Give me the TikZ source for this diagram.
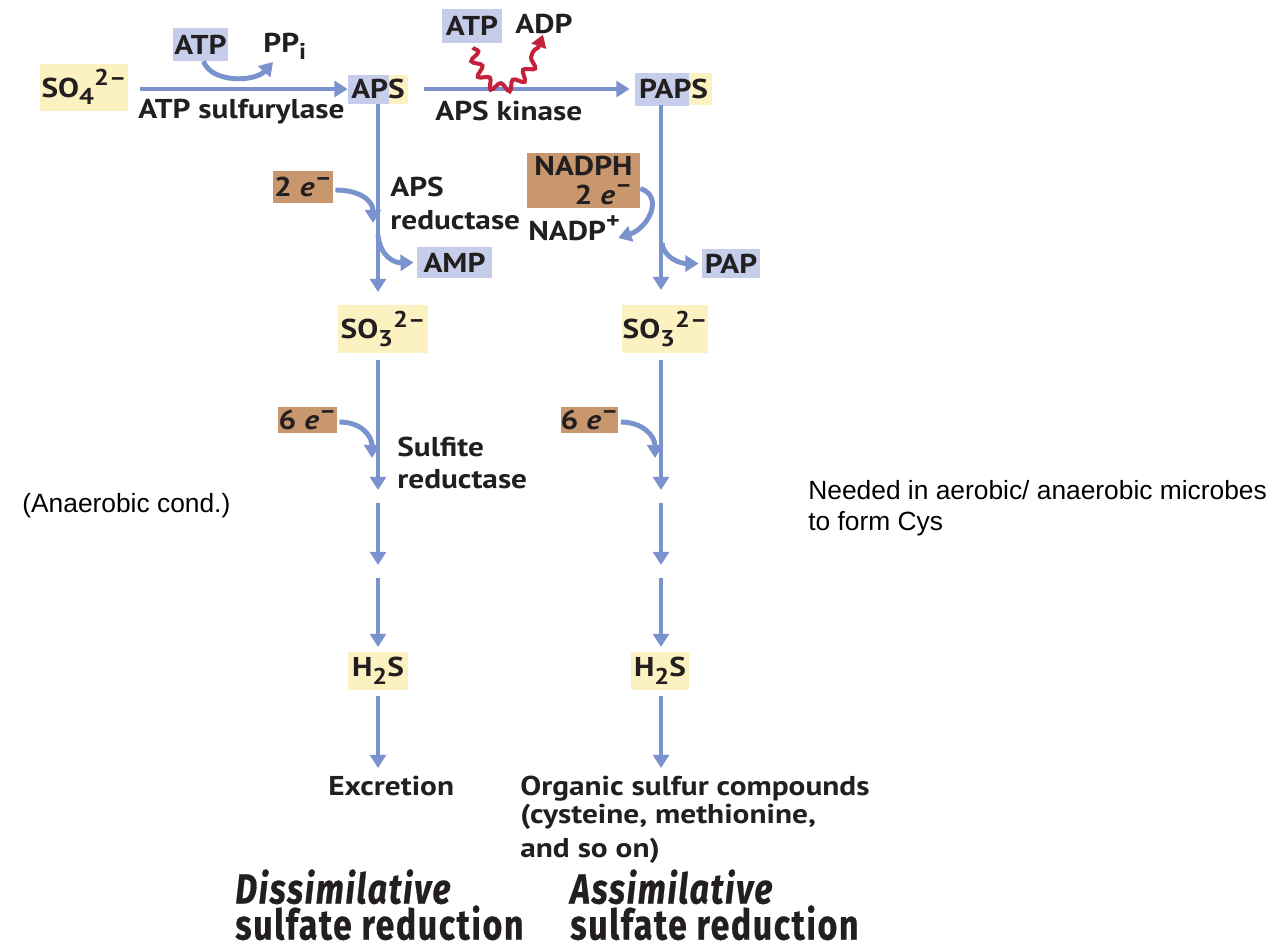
\documentclass[tikz,border=0pt]{standalone}
\usepackage{fontspec}
\setmainfont[FakeStretch=1.15]{PT Sans}
\newfontfamily\helv{Liberation Sans}
\newfontfamily\ttlfont[FakeStretch=0.8,LetterSpace=4,FakeBold=0.6]{Fira Sans}
\usetikzlibrary{arrows.meta,decorations.pathmorphing,calc}
\definecolor{arrc}{RGB}{122,146,206}
\definecolor{bbg}{RGB}{197,205,234}
\definecolor{ybg}{RGB}{251,241,193}
\definecolor{nbg}{RGB}{200,151,110}
\definecolor{wred}{RGB}{196,33,59}
\definecolor{txt}{RGB}{35,31,32}
\newcommand\lblf{\fontsize{15.5pt}{18pt}\selectfont\bfseries}
\newcommand\lo[1]{\raisebox{-0.28em}{\fontsize{13pt}{13pt}\selectfont #1}}
\newcommand\hi[1]{\raisebox{0.42em}{\fontsize{13pt}{13pt}\selectfont #1}}
\def\px{0.02cm}
\tikzset{
  lbl/.style={font=\lblf, text=txt, inner sep=0pt},
  box/.style={font=\lblf, text=txt, inner sep=0pt},
  ybox/.style={box, fill=ybg},
  bbox/.style={box, fill=bbg},
  nbox/.style={box, fill=nbg},
  arr/.style={draw=arrc, line width=2.8pt, -{Triangle[length=7.5pt,width=9pt]}},
  wave/.style={draw=wred, line width=2.3pt, -{Triangle[length=7pt,width=8.5pt]},
    decorate, decoration={snake, amplitude=2.6pt, segment length=9pt, post length=6pt}},
  helvtext/.style={font=\helv\fontsize{15pt}{17.6pt}\selectfont, text=black, inner sep=0pt, align=left},
  title/.style={font=\ttlfont\bfseries\fontsize{24pt}{20.5pt}\selectfont, text=txt, inner sep=0pt, align=left}
}
\begin{document}
\begin{tikzpicture}[x=0.02cm,y=-0.02cm]
\useasboundingbox[fill=white] (0,0) rectangle (1280,948);

% ---------- top row ----------
\node[ybox, minimum width=88*\px, minimum height=47*\px] (so4) at (84,87) {SO\lo{4}\hi{2--}};
\node[bbox, minimum width=55*\px, minimum height=33*\px] (atp1) at (200.5,44.5) {ATP};
\node[lbl, anchor=base west] (ppi) at (263,52) {PP\lo{i}};
\node[ybox, minimum width=60*\px, minimum height=29*\px,
      path picture={\fill[bbg] (path picture bounding box.north west) rectangle ++(41,40);}]
      (aps) at (378,89) {APS};
\node[lbl, anchor=base west] (sulf) at (138,118) {ATP sulfurylase};

\node[bbox, minimum width=60*\px, minimum height=34*\px] (atp2) at (472,26) {ATP};
\node[lbl, anchor=base west] (adp) at (515,33) {ADP};
\node[ybox, minimum width=77*\px, minimum height=32*\px,
      path picture={\fill[bbg] (path picture bounding box.north west) rectangle ++(54,40);}]
      (paps) at (673.5,89) {PAPS};
\node[lbl, anchor=base west] (kin) at (435,120) {APS kinase};

\draw[arr, shorten <=12*\px] (so4.east |- aps.west) -- (aps.west);
\draw[arr] ([xshift=3*\px]atp1.south) .. controls +(8,22) and +(-18,20) .. ([xshift=10*\px,yshift=-2*\px]ppi.south west);
\draw[arr, shorten <=16*\px, shorten >=5*\px] (aps.east) -- (paps.west);
\draw[wave] ([xshift=1*\px,yshift=-4*\px]atp2.south) .. controls (482,98) and (522,98) .. ([xshift=28*\px,yshift=-1*\px]adp.south west);

% ---------- left column, upper ----------
\coordinate (l1) at (378,292);
\draw[arr] (aps.south) -- (l1);
\node[nbox, minimum width=60*\px, minimum height=32*\px] (e2) at (303,187) {2 \textit{e}\hi{--}};
\node[lbl, anchor=north west, align=left, font=\fontsize{15.5pt}{18.8pt}\selectfont\bfseries] (apsred) at (390,177) {APS\\reductase};
\node[bbox, minimum width=75*\px, minimum height=31*\px] (amp) at (454.5,262.5) {AMP};
\draw[arr] ([xshift=2*\px,yshift=-3*\px]e2.east) .. controls +(25,0) and +(0,-22) .. (373,223);
\draw[arr] (378,235) .. controls (380,256) and (394,263) .. ([xshift=-3*\px]amp.west);

% ---------- right column, upper ----------
\coordinate (r0) at (661,105);
\coordinate (r1) at (661,290);
\draw[arr] (r0) -- (r1);
\node[nbox, minimum width=113*\px, minimum height=55*\px, align=right,
      font=\fontsize{15.5pt}{16pt}\selectfont\bfseries] (nadph) at (583.5,180.5) {NADPH\\2 \textit{e}\hi{--}};
\node[lbl, anchor=base west] (nadp) at (528,240) {NADP\hi{+}};
\node[bbox, minimum width=58*\px, minimum height=29*\px] (pap) at (731,263.5) {PAP};
\draw[arr] ([yshift=-8*\px]nadph.east) .. controls +(24,8) and +(30,-10) .. ([xshift=-2*\px,yshift=-10*\px]nadp.east);
\draw[arr] (662,243) .. controls (664,258) and (680,263.5) .. ([xshift=-3*\px]pap.west);

% ---------- sulfite ----------
\node[ybox, minimum width=90*\px, minimum height=48*\px] (so3l) at (383,329) {SO\lo{3}\hi{2--}};
\node[ybox, minimum width=86*\px, minimum height=48*\px] (so3r) at (665,329) {SO\lo{3}\hi{2--}};

\coordinate (la) at (378,360); \coordinate (lb) at (378,490);
\coordinate (lc) at (378,503); \coordinate (ld) at (378,565);
\coordinate (le) at (378,578); \coordinate (lf) at (378,647);
\coordinate (ra) at (661,360); \coordinate (rb) at (661,490);
\coordinate (rc) at (661,503); \coordinate (rd) at (661,565);
\coordinate (re) at (661,578); \coordinate (rf) at (661,647);
\draw[arr] (la) -- (lb); \draw[arr] (lc) -- (ld); \draw[arr] (le) -- (lf);
\draw[arr] (ra) -- (rb); \draw[arr] (rc) -- (rd); \draw[arr] (re) -- (rf);

\node[nbox, minimum width=59*\px, minimum height=26*\px] (e6l) at (307.5,420) {6 \textit{e}\hi{--}};
\node[nbox, minimum width=55*\px, minimum height=26*\px] (e6r) at (589.5,420) {6 \textit{e}\hi{--}};
\draw[arr] ([xshift=2*\px,yshift=-2*\px]e6l.east) .. controls +(22,0) and +(0,-22) .. (372,458);
\draw[arr] ([xshift=2*\px,yshift=-2*\px]e6r.east) .. controls +(22,0) and +(0,-22) .. (655,458);
\node[lbl, anchor=north west, align=left, font=\fontsize{15.5pt}{18.2pt}\selectfont\bfseries] (sred) at (397,437) {Sulfite\\reductase};

% ---------- H2S and products ----------
\node[ybox, minimum width=60*\px, minimum height=38*\px] (h2sl) at (378,671) {H\lo{2}S};
\node[ybox, minimum width=58*\px, minimum height=38*\px] (h2sr) at (660,671) {H\lo{2}S};
\coordinate (lx) at (378,768);
\coordinate (rx) at (661,768);
\draw[arr, shorten <=6*\px] (h2sl.south) -- (lx);
\draw[arr, shorten <=6*\px] (h2sr.south -| rx) -- (rx);
\node[lbl, anchor=base west] (excr) at (328,795) {Excretion};
\node[lbl, anchor=north west, align=left, font=\fontsize{15.5pt}{16pt}\selectfont\bfseries] (org) at (520,776)
  {Organic sulfur compounds\\(cysteine, methionine,\\[3pt]and so on)};

% ---------- titles ----------
\node[title, anchor=north west] (dis) at (235,869) {\itshape Dissimilative\\sulfate reduction};
\node[title, anchor=north west] (ass) at (570,869) {\itshape Assimilative\\sulfate reduction};

% ---------- notes ----------
\node[helvtext, anchor=base west] (anaer) at (22,512) {(Anaerobic cond.)};
\node[helvtext, anchor=north west] (need) at (808,480) {Needed in aerobic/ anaerobic microbes\\to form Cys};
\end{tikzpicture}
\end{document}
